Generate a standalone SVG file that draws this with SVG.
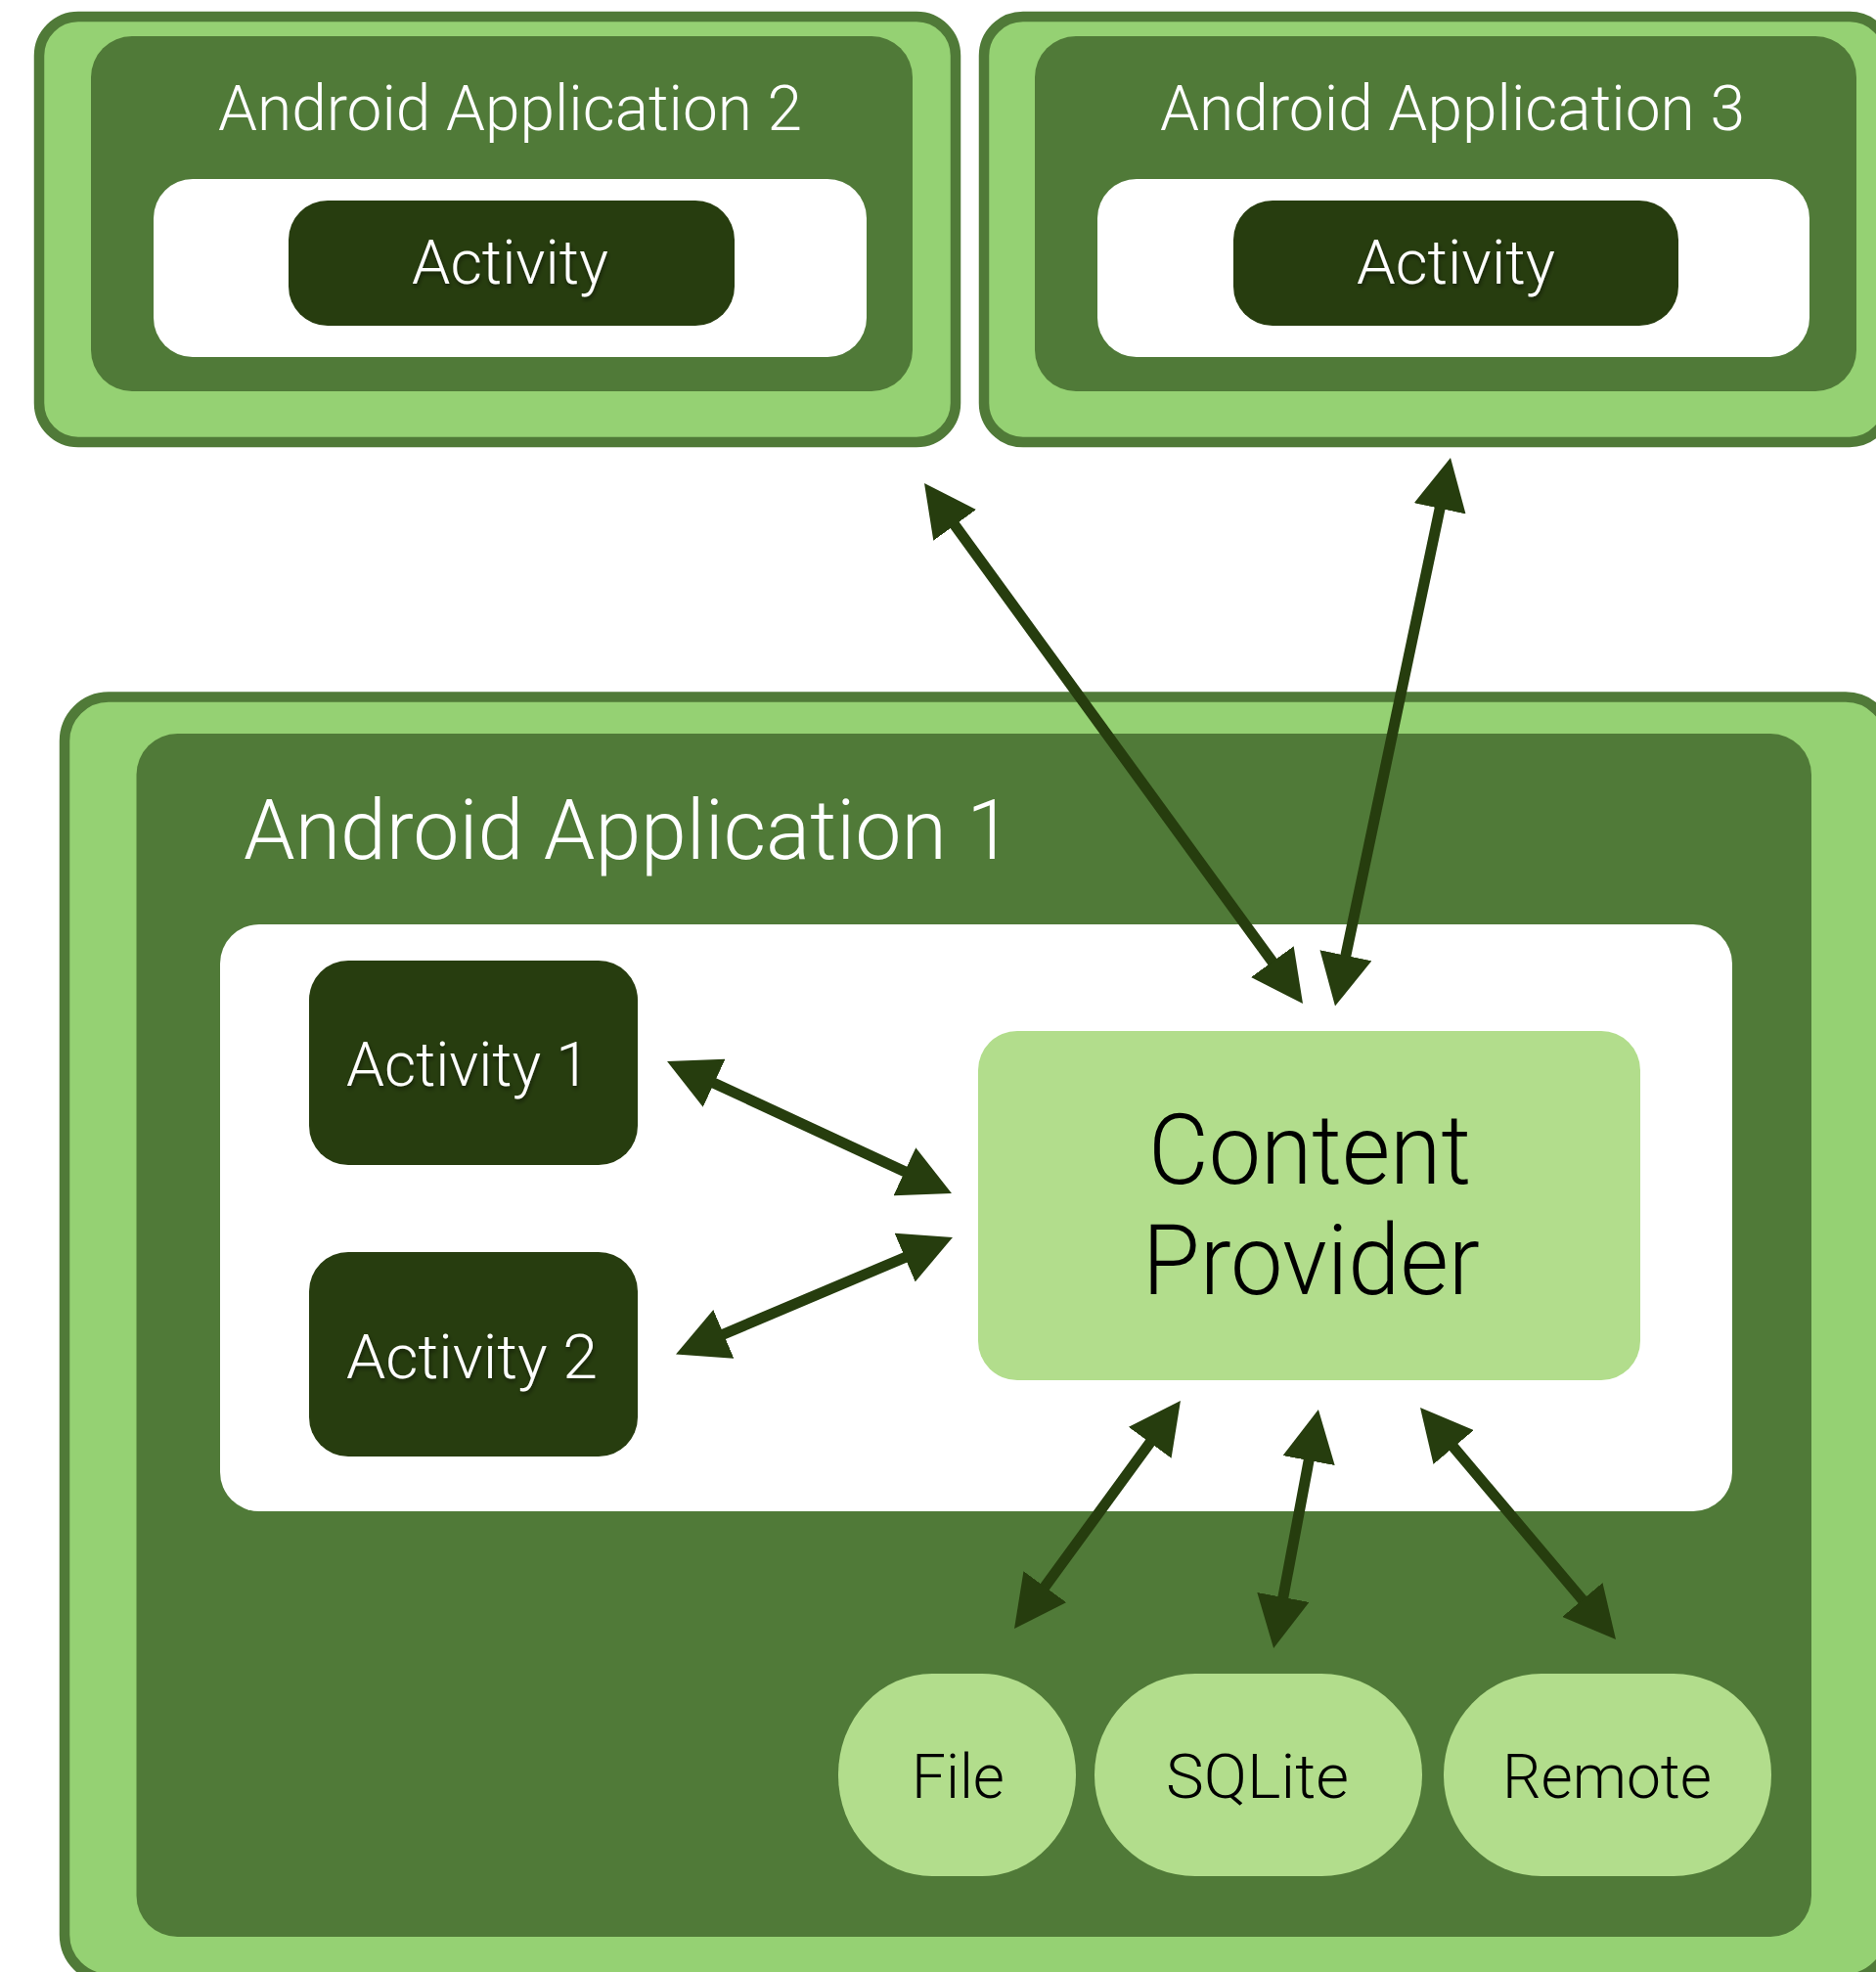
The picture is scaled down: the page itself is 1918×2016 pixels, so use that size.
<svg xmlns="http://www.w3.org/2000/svg" width="1918" height="2016" viewBox="0 0 1918 2016">
<defs>
<style>
.outer{fill:#95d173;stroke:#507a38;stroke-width:10.5}
.inner{fill:#507a38}
.white{fill:#ffffff}
.act{fill:#273d0f}
.light{fill:#b2dd8c}
text{font-family:Roboto,"Liberation Sans",sans-serif;font-weight:300}
.title{fill:#ffffff}
.actlbl{fill:#ffffff;filter:url(#sh)}
.dark{fill:#000000}
.conn{stroke:#263d0e;stroke-width:11;fill:none;marker-start:url(#head);marker-end:url(#head)}
</style>
<marker id="head" viewBox="0 0 53 54" refX="2" refY="27" markerWidth="53" markerHeight="54" markerUnits="userSpaceOnUse" orient="auto-start-reverse">
<path d="M0,0 L53,27 L0,54 z" fill="#263d0e"/>
</marker>
<filter id="sh" x="-10%" y="-20%" width="130%" height="150%">
<feDropShadow dx="1" dy="3" stdDeviation="2" flood-color="#000000" flood-opacity="0.45"/>
</filter>
</defs>

<g id="app2">
<rect class="outer" x="40" y="17" width="937" height="435" rx="40"/>
<rect class="inner" x="93" y="37" width="840" height="363" rx="42"/>
<rect class="white" x="157" y="183" width="729" height="182" rx="40"/>
<text class="title" x="223" y="133" font-size="65" textLength="597" lengthAdjust="spacingAndGlyphs">Android Application 2</text>
<g id="app2-activity">
<rect class="act" x="295" y="205" width="456" height="128" rx="40"/>
<text class="actlbl" x="421" y="290" font-size="63" textLength="201" lengthAdjust="spacingAndGlyphs">Activity</text>
</g>
</g>

<g id="app3">
<rect class="outer" x="1006" y="17" width="925" height="435" rx="40"/>
<rect class="inner" x="1058" y="37" width="840" height="363" rx="42"/>
<rect class="white" x="1122" y="183" width="728" height="182" rx="40"/>
<text class="title" x="1186" y="133" font-size="65" textLength="598" lengthAdjust="spacingAndGlyphs">Android Application 3</text>
<g id="app3-activity">
<rect class="act" x="1261" y="205" width="455" height="128" rx="40"/>
<text class="actlbl" x="1387" y="290" font-size="63" textLength="203" lengthAdjust="spacingAndGlyphs">Activity</text>
</g>
</g>

<g id="app1">
<rect class="outer" x="66" y="712.5" width="1866" height="1310.5" rx="45"/>
<rect class="inner" x="139.5" y="750" width="1712.5" height="1230" rx="42"/>
<rect class="white" x="225" y="945" width="1546" height="600" rx="40"/>
<text class="title" x="249" y="878" font-size="85" textLength="786" lengthAdjust="spacingAndGlyphs">Android Application 1</text>
</g>

<g id="activity1">
<rect class="act" x="316" y="982" width="336" height="209" rx="40"/>
<text class="actlbl" x="354" y="1110" font-size="63" textLength="249" lengthAdjust="spacingAndGlyphs">Activity 1</text>
</g>

<g id="activity2">
<rect class="act" x="316" y="1280" width="336" height="209" rx="40"/>
<text class="actlbl" x="354" y="1409" font-size="63" textLength="257" lengthAdjust="spacingAndGlyphs">Activity 2</text>
</g>

<g id="content-provider">
<rect class="light" x="1000" y="1054" width="677" height="357" rx="40"/>
<text class="dark" x="1174" y="1210" font-size="100" textLength="330" lengthAdjust="spacingAndGlyphs">Content</text>
<text class="dark" x="1168" y="1323" font-size="100" textLength="345" lengthAdjust="spacingAndGlyphs">Provider</text>
</g>

<g id="file">
<rect class="light" x="857" y="1711" width="243" height="207" rx="96" ry="103"/>
<text class="dark" x="932" y="1838" font-size="63" textLength="95" lengthAdjust="spacingAndGlyphs">File</text>
</g>

<g id="sqlite">
<rect class="light" x="1119" y="1711" width="335" height="207" rx="103" ry="103"/>
<text class="dark" x="1192" y="1838" font-size="63" textLength="187" lengthAdjust="spacingAndGlyphs">SQLite</text>
</g>

<g id="remote">
<rect class="light" x="1476" y="1711" width="335" height="207" rx="100" ry="103"/>
<text class="dark" x="1536" y="1838" font-size="63" textLength="214" lengthAdjust="spacingAndGlyphs">Remote</text>
</g>

<g id="connectors">
<line class="conn" x1="975" y1="535.2" x2="1302" y2="984.8"/>
<line class="conn" x1="1472.5" y1="517.9" x2="1375.5" y2="978.7"/>
<line class="conn" x1="728.3" y1="1106.5" x2="926.7" y2="1198.5"/>
<line class="conn" x1="738" y1="1364.7" x2="927" y2="1284.8"/>
<line class="conn" x1="1176.9" y1="1473.2" x2="1067.1" y2="1623.8"/>
<line class="conn" x1="1338.5" y1="1491.1" x2="1311.5" y2="1634.9"/>
<line class="conn" x1="1484.9" y1="1478" x2="1619.1" y2="1637"/>
</g>
</svg>
